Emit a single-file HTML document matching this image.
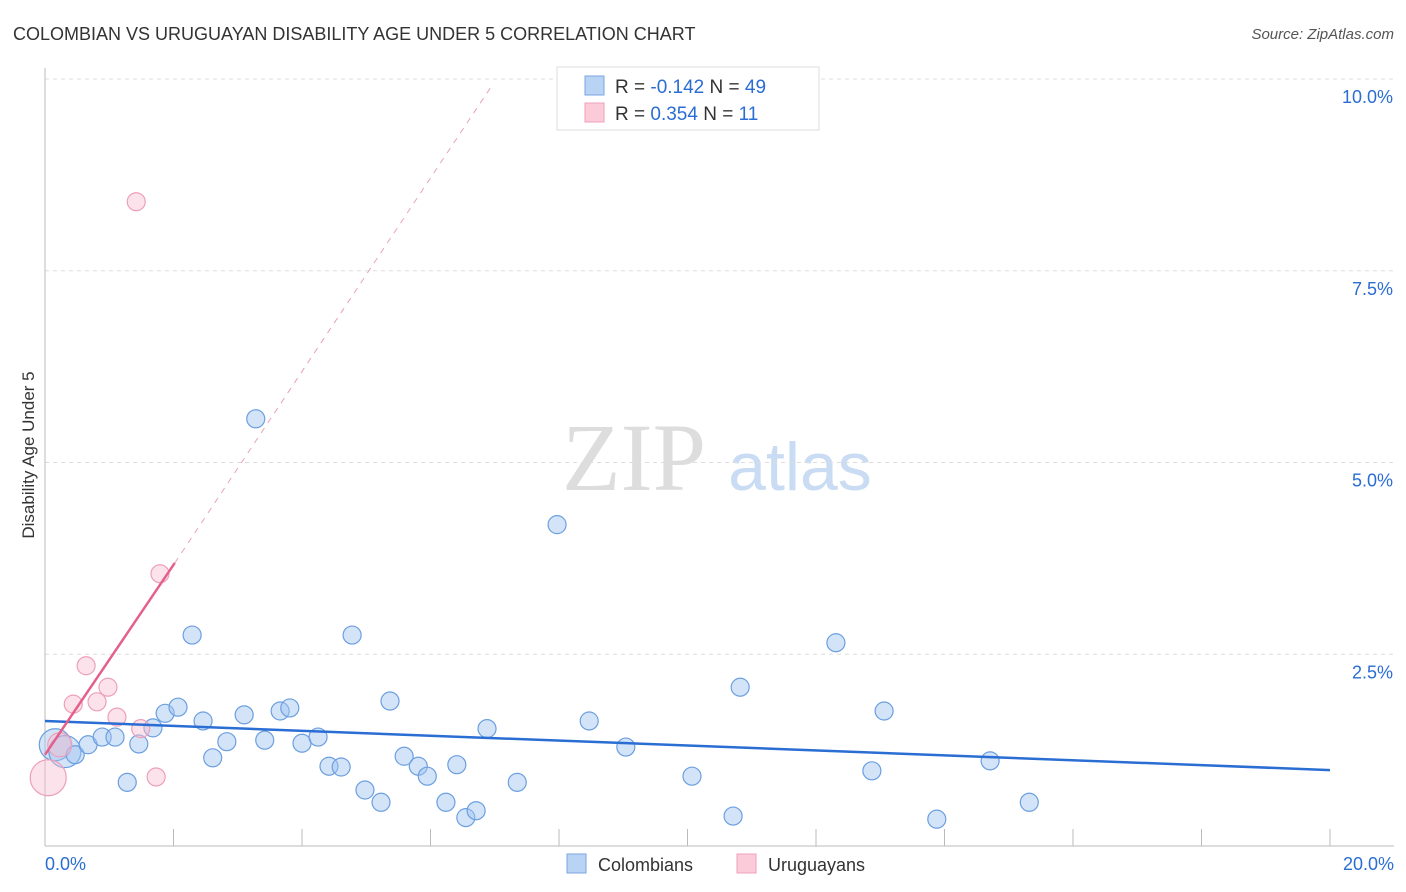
<!DOCTYPE html>
<html><head><meta charset="utf-8"><style>
body{margin:0;background:#fff;font-family:"Liberation Sans",sans-serif}
</style></head><body>
<svg id="c" width="1406" height="892" style="display:block">
<text x="13" y="40" font-size="18" fill="#333">COLOMBIAN VS URUGUAYAN DISABILITY AGE UNDER 5 CORRELATION CHART</text>
<text x="1394" y="39" font-size="15" fill="#555" font-style="italic" text-anchor="end">Source: ZipAtlas.com</text>
<text x="634" y="490" font-size="96" fill="#ddd" font-family="Liberation Serif" text-anchor="middle">ZIP</text>
<text x="800" y="490" font-size="68" fill="#c9dcf3" text-anchor="middle">atlas</text>
<text transform="translate(34,455) rotate(-90)" font-size="17" fill="#333" text-anchor="middle">Disability Age Under 5</text>
<g id="grid"></g><g id="marks"></g>
<g>
<rect x="557" y="67" width="262" height="63" fill="#fff" stroke="#ddd"/>
<rect x="585" y="76" width="19" height="19" fill="#b9d3f5" stroke="#7aa6e0"/>
<rect x="585" y="103" width="19" height="19" fill="#fbcbd9" stroke="#eda0b8"/>
<text x="615" y="93" font-size="19" fill="#333">R = <tspan fill="#2a6dd3">-0.142</tspan>   N = <tspan fill="#2a6dd3">49</tspan></text>
<text x="615" y="120" font-size="19" fill="#333">R =  <tspan fill="#2a6dd3">0.354</tspan>   N =  <tspan fill="#2a6dd3">11</tspan></text>
</g>
<g>
<rect x="567" y="854" width="19" height="19" fill="#b9d3f5" stroke="#7aa6e0"/>
<text x="598" y="871" font-size="18" fill="#333">Colombians</text>
<rect x="737" y="854" width="19" height="19" fill="#fbcbd9" stroke="#eda0b8"/>
<text x="768" y="871" font-size="18" fill="#333">Uruguayans</text>
</g>
</svg>
<script>
const xTicks=[0,20];
const yTicks=[2.5,5,7.5,10];
const blueX=[0.16,0.31,0.47,0.67,0.89,1.09,1.28,1.46,1.68,1.87,2.07,2.29,2.46,2.61,2.83,3.10,3.28,3.42,3.66,3.81,4.00,4.25,4.42,4.61,4.78,4.98,5.23,5.37,5.59,5.81,5.95,6.24,6.41,6.55,6.71,6.88,7.35,7.97,8.47,9.04,10.07,10.71,10.82,12.31,12.87,13.06,13.88,14.71,15.32];
const blueY=[1.32,1.23,1.19,1.32,1.42,1.42,0.83,1.33,1.54,1.73,1.81,2.75,1.63,1.15,1.36,1.71,5.57,1.38,1.76,1.80,1.34,1.42,1.04,1.03,2.75,0.73,0.57,1.89,1.17,1.04,0.91,0.57,1.06,0.37,0.46,1.53,0.83,4.19,1.63,1.29,0.91,0.39,2.07,2.65,0.98,1.76,0.35,1.11,0.57];
const pinkX=[1.42,1.79,0.64,0.98,0.44,0.81,1.12,1.49,1.73,0.23,0.05];
const pinkY=[8.40,3.55,2.35,2.07,1.85,1.88,1.68,1.53,0.90,1.32,0.89];
const blueTrend=[[0,1.63],[20,0.99]];
const pinkTrend=[[0,1.19],[2.02,3.69]];
const pinkDash=[[2.02,3.69],[6.96,9.92]];
const NS='http://www.w3.org/2000/svg';
const X=v=>45+v/20*1285, Y=v=>846-v*76.7;
function mk(p,t,a){const e=document.createElementNS(NS,t);for(const k in a)e.setAttribute(k,a[k]);p.appendChild(e);return e;}
const g=document.getElementById('grid'),m=document.getElementById('marks');
yTicks.forEach(v=>{
 const l=mk(g,'line',{x1:45,x2:1394,y1:Y(v),y2:Y(v),stroke:'#ddd','stroke-dasharray':'4,4'});
 
 const t=mk(g,'text',{x:1393,y:Y(v)+24,'font-size':18,fill:'#2a6dd3','text-anchor':'end'});t.textContent=v.toFixed(1)+'%';
 
});
const ax=mk(g,'line',{x1:45,x2:45,y1:68,y2:846,stroke:'#bbb'});
const bx=mk(g,'line',{x1:45,x2:1394,y1:846,y2:846,stroke:'#bbb'});
for(let v=0;v<=20;v+=2){const l=mk(g,'line',{x1:X(v),x2:X(v),y1:829,y2:846,stroke:'#bbb'});}
xTicks.forEach((v,i)=>{const t=mk(g,'text',{x:i?1394:45,y:870,'font-size':18,fill:'#2a6dd3','text-anchor':i?'end':'start'});t.textContent=v.toFixed(1)+'%';
 });
function line(d,col,w,dash,name){const l=mk(m,'line',{x1:X(d[0][0]),y1:Y(d[0][1]),x2:X(d[1][0]),y2:Y(d[1][1]),stroke:col,'stroke-width':w});if(dash)l.setAttribute('stroke-dasharray',dash);
 }
blueX.forEach((x,i)=>{const r=i<2?16:9;const c=mk(m,'circle',{cx:X(x),cy:Y(blueY[i]),r:r,fill:'rgba(160,196,240,0.45)',stroke:'#6b9fe0','stroke-width':1.2});
 });
pinkX.forEach((x,i)=>{const r=i==10?18:(i==9?12:9);const c=mk(m,'circle',{cx:X(x),cy:Y(pinkY[i]),r:r,fill:'rgba(248,190,208,0.45)',stroke:'#eda0b8','stroke-width':1.2});
 });
line(blueTrend,'#2a6dd3',2.5,null,'colombian-trendline');
line(pinkTrend,'#e4608a',2.5,null,'uruguayan-trendline');
line(pinkDash,'#eaa0b8',1,'6,6','uruguayan-trend-extension');
</script>
</body></html>
